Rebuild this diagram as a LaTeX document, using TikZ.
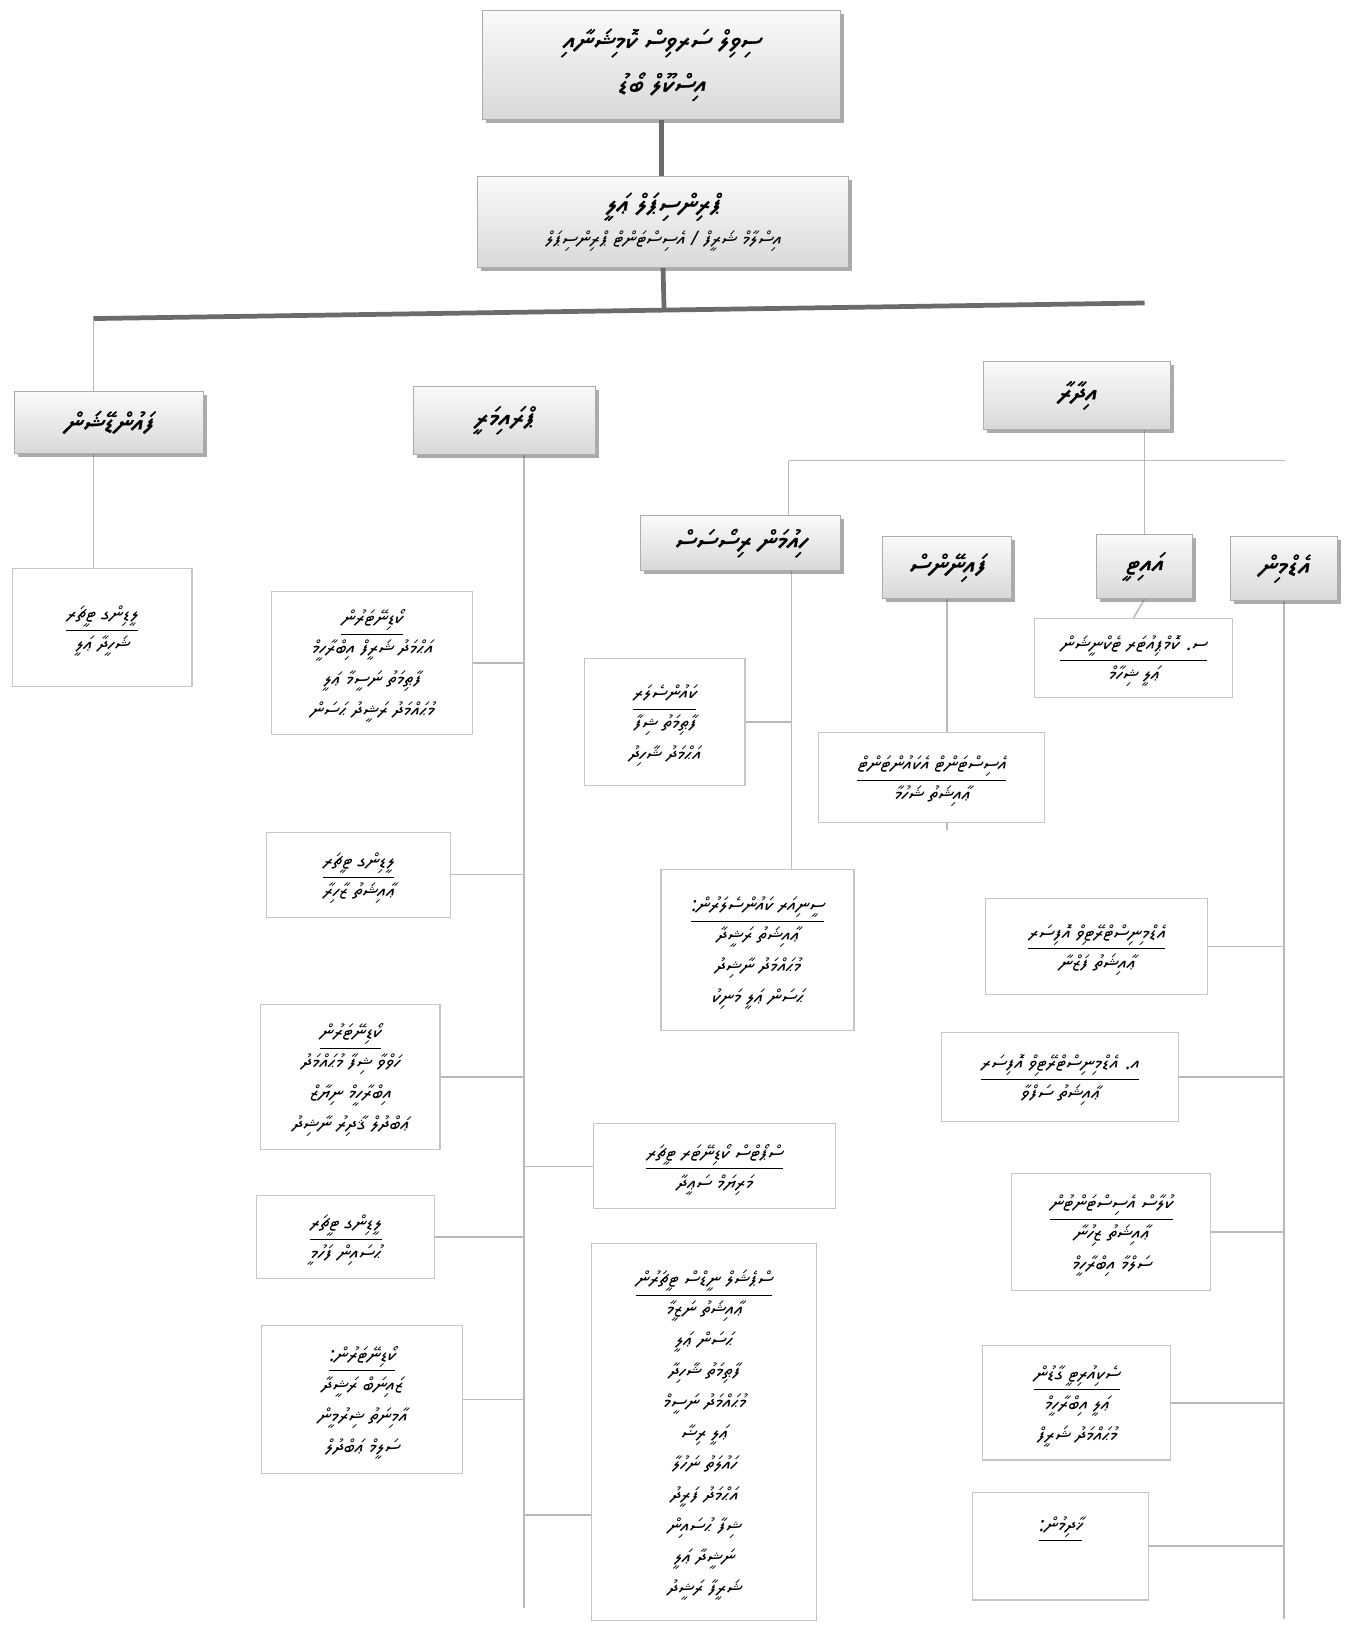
\documentclass[tikz,border=0pt]{standalone}
\usepackage{fontspec}
\usetikzlibrary{shadows,backgrounds}
\TeXXeTstate=1
\IfFontExistsTF{Noto Sans Thaana}
  {\newfontfamily\thaana[Script=Thaana,FakeSlant=0.15]{Noto Sans Thaana}
   \newfontfamily\thaanab[Script=Thaana,FakeSlant=0.15,FakeBold=1.2]{Noto Sans Thaana}}
  {\IfFontExistsTF{FreeSerif.otf}
    {\newfontfamily\thaana[Script=Thaana,FakeSlant=0.15]{FreeSerif.otf}
     \newfontfamily\thaanab[Script=Thaana,FakeSlant=0.15,FakeBold=1.2]{FreeSerif.otf}}
    {\newfontfamily\thaana{DejaVu Sans}\newfontfamily\thaanab{DejaVu Sans}}}
\newcommand\dvtxt[1]{{\thaana\beginR #1\endR}}
\newcommand\dvbold[1]{{\thaanab\beginR #1\endR}}
\newcommand\dvhead[1]{\begin{tabular}{@{}c@{}}\dvtxt{#1}\\[0pt]\hline\end{tabular}}
\tikzset{
  gB/.style  = {draw=gray!65, top color=gray!4, bottom color=gray!30,
                align=center, inner sep=2pt, font=\fontsize{15}{24}\selectfont,
                drop shadow={shadow xshift=0.7mm, shadow yshift=-0.7mm,
                             fill=black!60, opacity=0.55}},
  wB/.style  = {draw=gray!45, fill=white, line width=0.6pt, align=center,
                inner sep=2pt, font=\fontsize{11}{17}\selectfont},
  bx/.style 2 args = {minimum width=#1*0.2mm, minimum height=#2*0.2mm},
  L/.style   = {draw=gray!55, line width=0.8pt},
  LT/.style  = {draw=black!58, line width=2.6pt},
}
\begin{document}
\begin{tikzpicture}[x=0.2mm,y=-0.2mm]

%% ─── Top ─────────────────────────────────────────────
\node[gB, bx={345}{105}] (board) at (637.5,62.5)
  {\dvbold{ސިވިލް ސަރވިސް ކޮމިޝަނާއި}\\\dvbold{އިސްކޫލް ބޯޑު}};
\node[gB, bx={358}{88}] (head) at (639,214)
  {\dvbold{ޕްރިންސިޕަލް ޢަލީ}\\[-6pt]
   {\fontsize{11}{17}\selectfont\dvtxt{އިސްލާމް ޝަރީފް / އެސިސްޓަންޓް ޕްރިންސިޕަލް}}};

\coordinate (barL) at (90,307);
\coordinate (barR) at (1103,292);
\coordinate (barM) at (640,299);

%% ─── Sections ────────────────────────────────────────
\node[gB, bx={182}{60}] (found) at (105,407) {\dvbold{ފައުންޑޭޝަން}};
\node[gB, bx={176}{66}] (prim)  at (486,405) {\dvbold{ޕްރައިމަރީ}};
\node[gB, bx={180}{66}] (corp)  at (1038,381) {\dvbold{އިދާރާ}};

%% left branch
\node[wB, bx={173}{114}] (found1) at (98.5,605)
  {\dvhead{ލީޑިންގ ޓީޗަރ}\\\dvtxt{ޝަހީދާ ޢަލީ}};

%% primary branch
\coordinate (pt) at (505,1550);
\node[wB, bx={193}{138}] (prim1) at (358.5,639)
  {\dvhead{ކޯޑިނޭޓަރުން}\\\dvtxt{އަޙްމަދު ޝަރީފް އިބްރާހީމް}\\
   \dvtxt{ފާޠިމަތު ނަސީމާ ޢަލީ}\\\dvtxt{މުޙައްމަދު ރަޝީދު ޙަސަން}};
\node[wB, bx={177}{82}] (prim2) at (345.5,843)
  {\dvhead{ލީޑިންގ ޓީޗަރ}\\\dvtxt{ޢާއިޝަތު ޒާހިރާ}};
\node[wB, bx={173}{140}] (prim3) at (337.5,1038)
  {\dvhead{ކޯޑިނޭޓަރުން}\\\dvtxt{ހަވްވާ ޝިފާ މުޙައްމަދު}\\
   \dvtxt{އިބްރާހީމް ނިޔާޒް}\\\dvtxt{ޢަބްދުލް ޤާދިރު ނާޝިދު}};
\node[wB, bx={233}{82}] (prim4) at (688.5,1124)
  {\dvhead{ސްޕޯޓްސް ކޯޑިނޭޓަރ ޓީޗަރ}\\\dvtxt{މަރިޔަމް ސަޢީދާ}};
\node[wB, bx={172}{80}] (prim5) at (333,1192)
  {\dvhead{ލީޑިންގ ޓީޗަރ}\\\dvtxt{ޙުސައިން ފަހުމީ}};
\node[wB, bx={194}{143}] (prim6) at (349,1348.5)
  {\dvhead{ކޯޑިނޭޓަރުން:}\\\dvtxt{ޒައިނަބް ރަޝީދާ}\\
   \dvtxt{އާމިނަތު ޝިރުމީން}\\\dvtxt{ސަލީމް ޢަބްދުލް}};
\node[wB, bx={217}{364}] (prim7) at (678.5,1380)
  {\dvhead{ސްޕެޝަލް ނީޑްސް ޓީޗަރުން}\\\dvtxt{ޢާއިޝަތު ނަޒީމާ}\\
   \dvtxt{ޙަސަން ޢަލީ}\\\dvtxt{ފާޠިމަތު ޝާހިދާ}\\\dvtxt{މުޙައްމަދު ނަސީމް}\\
   \dvtxt{ޢަލީ ރިޟާ}\\\dvtxt{ހައުލަތު ނަހުލާ}\\\dvtxt{އަޙްމަދު ފަރީދު}\\
   \dvtxt{ޝިފާ ޙުސައިން}\\\dvtxt{ނަޝީދާ ޢަލީ}\\\dvtxt{ޝަރީފާ ރަޝީދު}};
\coordinate (prim7in) at ([yshift=-1.6cm]prim7.west);

%% corporate branch
\coordinate (rl) at (760,444);
\coordinate (rr) at (1238,444);
\node[gB, bx={193}{53}] (hres) at (713.5,523.5) {\dvbold{ހިއުމަން ރިސޯސަސް}};
\node[gB, bx={125}{60}] (fin)  at (912.5,547)  {\dvbold{ފައިނޭންސް}};
\node[gB, bx={92}{62}]  (it)   at (1103,546)   {\dvbold{އައިޓީ}};
\node[gB, bx={103}{62}] (adm)  at (1237.5,548) {\dvbold{އެޑްމިން}};

\coordinate (hrest) at (763,700);
\coordinate (admt) at (1238,1560);
\node[wB, bx={155}{122}] (hres1) at (640.5,696)
  {\dvhead{ކައުންސެލަރ}\\\dvtxt{ފާޠިމަތު ޝިފާ}\\\dvtxt{އަޙްމަދު ޝާހިދު}};
\node[wB, bx={186}{155}] (hres2) at (730,915.5)
  {\dvhead{ސީނިއަރ ކައުންސެލަރުން:}\\\dvtxt{ޢާއިޝަތު ރަޝީދާ}\\
   \dvtxt{މުޙައްމަދު ނާޝިދު}\\\dvtxt{ޙަސަން ޢަލީ މަނިކު}};
\node[wB, bx={218}{87}] (fin1) at (898,749.5)
  {\dvhead{އެސިސްޓަންޓް އެކައުންޓަންޓް}\\\dvtxt{ޢާއިޝަތު ޝަހުމާ}};
\node[wB, bx={191}{76}] (it1) at (1092.5,634)
  {\dvhead{ސ. ކޮމްޕިއުޓަރ ޓެކްނީޝަން}\\\dvtxt{ޢަލީ ޝިހާމް}};
\node[wB, bx={214}{92}] (adm1) at (1057,912)
  {\dvhead{އެޑްމިނިސްޓްރޭޓިވް އޮފިސަރ}\\\dvtxt{ޢާއިޝަތު ފަޒްނާ}};
\node[wB, bx={229}{86}] (adm2) at (1021.5,1038)
  {\dvhead{އ. އެޑްމިނިސްޓްރޭޓިވް އޮފިސަރ}\\\dvtxt{ޢާއިޝަތު ސަފްވާ}};
\node[wB, bx={192}{113}] (adm3) at (1071,1187.5)
  {\dvhead{ކުލާސް އެސިސްޓަންޓުން}\\\dvtxt{ޢާއިޝަތު ޒިހުނާ}\\\dvtxt{ސަލްމާ އިބްރާހީމް}};
\node[wB, bx={181}{110}] (adm4) at (1037.5,1352)
  {\dvhead{ސެކިއުރިޓީ ގާޑުން}\\\dvtxt{ޢަލީ އިބްރާހީމް}\\\dvtxt{މުޙައްމަދު ޝަރީފް}};
\node[wB, bx={170}{104}] (adm5) at (1022,1490) {};
\node[font=\fontsize{11}{17}\selectfont, inner sep=1pt, anchor=north]
  (adm5t) at ([yshift=-0.3cm]adm5.north) {\dvhead{ޚާދިމުން:}};

%% ─── Connectors ──────────────────────────────────────
\begin{scope}[on background layer]
\fill[white] (0,0) rectangle (1300,1568);
\draw[LT] (board.south) -- (board.south |- head.north);
\draw[LT] (head.south) -- (barM);
\draw[LT] (barL) -- (barR);
\draw[L] (barL) -- (barL |- found.north);
\draw[L] (barL |- found.south) -- (barL |- found1.north);
\draw[L] (prim.south -| pt) -- (pt);
\foreach \b in {prim1,prim2,prim3,prim5,prim6}
  \draw[L] (\b.east) -- (\b.east -| pt);
\draw[L] (prim4.west -| pt) -- (prim4.west);
\draw[L] (prim7in -| pt) -- (prim7in);
\draw[L] (it.north |- corp.south) -- (it.north);
\draw[L] (rl) -- (rr);
\draw[L] (rl) -- (rl |- hres.north);
\draw[L] (hres.south -| hrest) -- (hres2.north -| hrest);
\draw[L] (hres1.east) -- (hres1.east -| hrest);
\draw[L] (fin.south) -- (fin.south |- 0,800);
\draw[L] (it.south) -- (it1.north);
\draw[L] (adm.south) -- (adm.south |- admt);
\foreach \b in {adm1,adm2,adm3,adm4,adm5}
  \draw[L] (\b.east) -- (\b.east -| admt);
\end{scope}

\end{tikzpicture}
\end{document}
